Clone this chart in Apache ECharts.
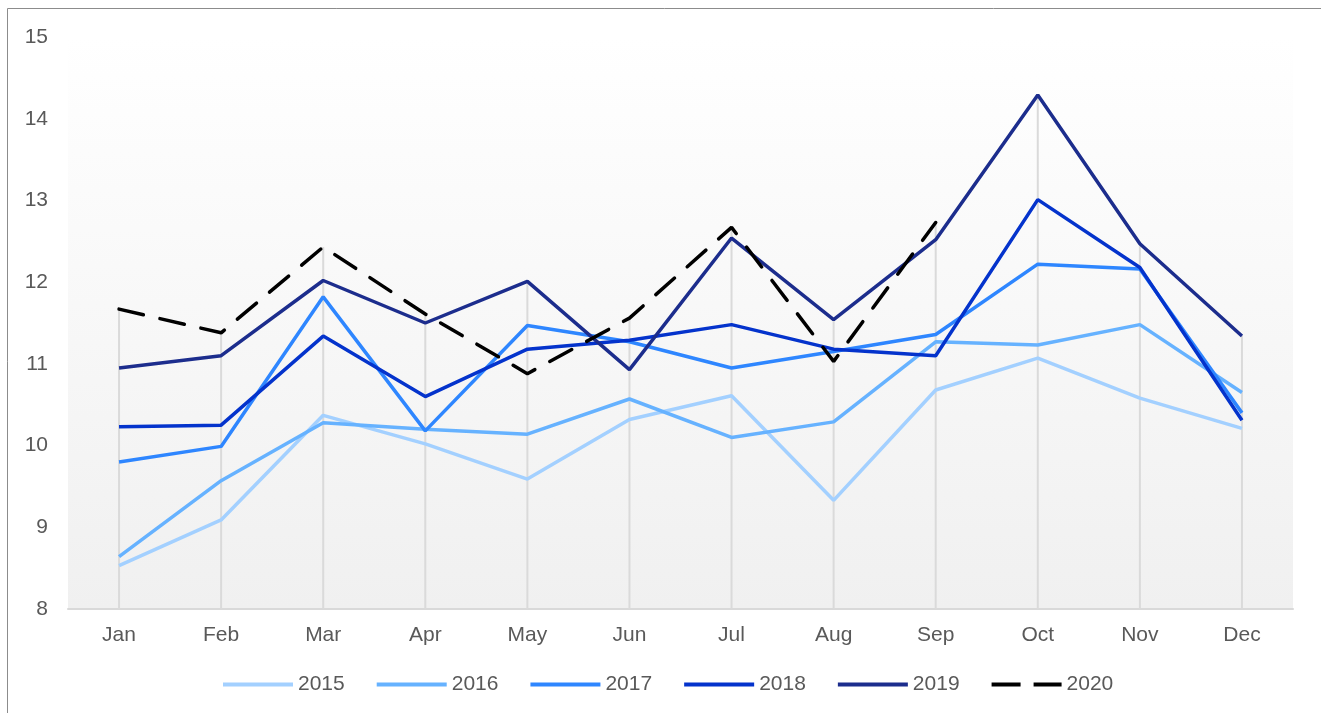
<!DOCTYPE html>
<html>
<head>
<meta charset="utf-8">
<title>Monthly values 2015-2020</title>
<script src="https://cdn.jsdelivr.net/npm/echarts@6/dist/echarts.min.js"></script>
<style>
    html, body { margin: 0; padding: 0; background: #fff; }
    #main { width: 1321px; height: 713px; }
</style>
</head>
<body>
<div id="main"></div>
<script>
var months = ['Jan', 'Feb', 'Mar', 'Apr', 'May', 'Jun', 'Jul', 'Aug', 'Sep', 'Oct', 'Nov', 'Dec'];
var years = ['2015', '2016', '2017', '2018', '2019', '2020'];

var data2015 = [8.53, 9.09, 10.37, 10.02, 9.59, 10.32, 10.61, 9.33, 10.68, 11.07, 10.58, 10.21];
var data2016 = [8.64, 9.57, 10.28, 10.20, 10.14, 10.57, 10.10, 10.29, 11.27, 11.23, 11.48, 10.65];
var data2017 = [9.80, 9.99, 11.82, 10.18, 11.47, 11.27, 10.95, 11.15, 11.36, 12.22, 12.16, 10.40];
var data2018 = [10.23, 10.25, 11.34, 10.60, 11.18, 11.29, 11.48, 11.18, 11.10, 13.01, 12.18, 10.31];
var data2019 = [10.95, 11.10, 12.02, 11.50, 12.01, 10.93, 12.54, 11.54, 12.52, 14.29, 12.47, 11.34];
var data2020 = [11.67, 11.38, 12.43, 11.61, 10.88, 11.56, 12.67, 11.03, 12.73, null, null, null];

var yTicks = {min: 8, max: 15, interval: 1};

var colors = ['#a3d0ff', '#66b2ff', '#2e86ff', '#0433cc', '#1c2d8d', '#000000'];
var allData = [data2015, data2016, data2017, data2018, data2019, data2020];

// legend swatches: a plain bar, and a two-dash bar for 2020
var solidIcon = 'path://M0,0H70V4H0Z';
var dashIcon = 'path://M0,0H29V4H0Z M42,0H70V4H42Z';

// drop line height per month = highest value of that month
var dropData = months.map(function (m, i) {
    var top = null;
    allData.forEach(function (arr) {
        if (arr[i] != null && (top == null || arr[i] > top)) top = arr[i];
    });
    return top;
});

var textColor = '#595959';
var fontFamily = '"Liberation Sans", Arial, sans-serif';

var series = [{
    name: 'drop',
    type: 'bar',
    barWidth: 2,
    silent: true,
    itemStyle: {color: '#dadada'},
    data: dropData
}];

years.forEach(function (y, i) {
    var dashed = (y === '2020');
    series.push({
        name: y,
        type: 'line',
        symbol: 'none',
        connectNulls: false,
        lineStyle: {
            color: colors[i],
            width: 3.5,
            type: dashed ? [25, 17] : 'solid',
            cap: dashed ? 'round' : 'butt'
        },
        itemStyle: {color: colors[i]},
        data: allData[i]
    });
});

var legendData = years.map(function (y) {
    return {name: y, icon: y === '2020' ? dashIcon : solidIcon};
});

var myChart = echarts.init(document.getElementById('main'));
var option = {
    animation: false,
    textStyle: {fontFamily: fontFamily},
    graphic: [{
        type: 'rect',
        shape: {x: 7.5, y: 8.5, width: 1330, height: 720},
        style: {fill: 'none', stroke: '#8c8c8c', lineWidth: 1},
        silent: true
    }],
    grid: {
        left: 68,
        right: 28,
        top: 37,
        bottom: 104,
        show: true,
        borderWidth: 0,
        backgroundColor: new echarts.graphic.LinearGradient(0, 0, 0, 1, [
            {offset: 0, color: '#ffffff'},
            {offset: 1, color: '#f0f0f0'}
        ])
    },
    legend: {
        data: legendData,
        left: 223,
        top: 674,
        padding: 0,
        itemWidth: 70,
        itemHeight: 4,
        itemGap: 32,
        textStyle: {color: textColor, fontSize: 21, fontFamily: fontFamily}
    },
    xAxis: {
        type: 'category',
        data: months,
        boundaryGap: true,
        axisLine: {lineStyle: {color: '#d9d9d9', width: 2}},
        axisTick: {show: false},
        splitLine: {show: false},
        axisLabel: {color: textColor, fontSize: 21, margin: 16, fontFamily: fontFamily}
    },
    yAxis: {
        type: 'value',
        min: yTicks.min,
        max: yTicks.max,
        interval: yTicks.interval,
        axisLine: {show: false},
        axisTick: {show: false},
        splitLine: {show: false},
        axisLabel: {color: textColor, fontSize: 21, margin: 20, fontFamily: fontFamily}
    },
    series: series
};
myChart.setOption(option);
</script>
</body>
</html>
